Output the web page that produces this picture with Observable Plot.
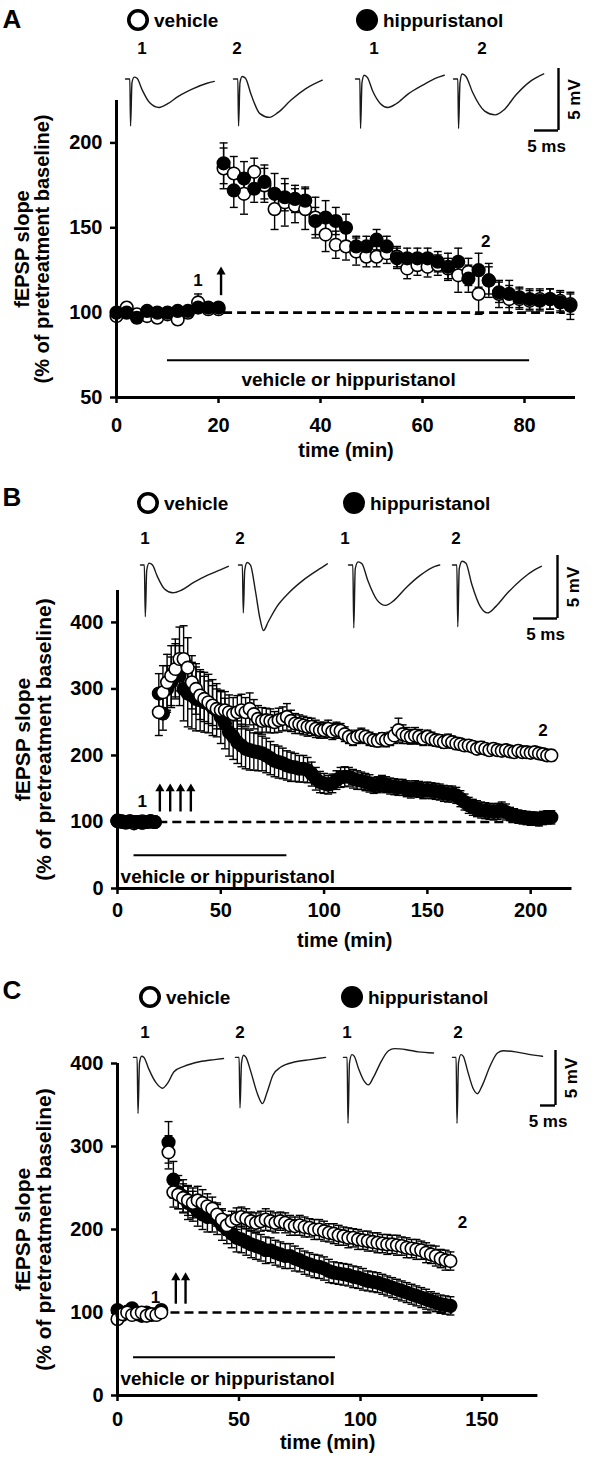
<!DOCTYPE html>
<html><head><meta charset="utf-8">
<script src="https://cdn.jsdelivr.net/npm/d3@7"></script>
<script src="https://cdn.jsdelivr.net/npm/@observablehq/plot@0.6"></script>
<style>
body{margin:0;background:#fff;}
#fig{position:relative;width:595px;height:1458px;overflow:hidden;font-family:'Liberation Sans',Arial,Helvetica,sans-serif;font-weight:bold;color:#000;background:#fff;}
#fig svg{overflow:visible;}
</style></head><body><div id="fig"></div>
<script>
// ---------------- DATA ----------------
const seriesNames = ["vehicle", "hippuristanol"];
const yLabel = "fEPSP slope\n(% of pretreatment baseline)";
const xLabel = "time (min)";
const barLabel = "vehicle or hippuristanol";

// Panel A: [time (min), mean (%), SEM]
const aVehicle = [[0,98,3],[2,103,3],[4,99,2],[6,98,3],[8,97,3],[10,99,3],[12,96,3],[14,100,3],[16,106,5],[18,102,3],[20,102,3],
[21,185,12],[23,182,10],[25,170,12],[27,183,8],[29,175,10],[31,161,12],[33,165,14],[35,163,10],[37,161,12],[39,156,12],
[41,146,10],[43,140,8],[45,139,8],[47,136,8],[49,133,6],[51,133,6],[53,135,6],[55,133,6],[57,126,6],[59,128,6],
[61,127,6],[63,128,6],[65,126,6],[67,122,10],[69,124,8],[71,111,12],[73,119,10],[75,111,8],[77,108,8],[79,108,6],
[81,107,6],[83,108,6],[85,108,6],[87,107,6],[89,105,6]];
const aHipp = [[0,100,3],[2,100,2],[4,97,3],[6,101,2],[8,100,2],[10,100,2],[12,101,2],[14,101,2],[16,103,3],[18,103,2],[20,103,2],
[21,188,12],[23,172,10],[25,179,10],[27,173,8],[29,177,10],[31,170,12],[33,168,8],[35,167,8],[37,166,8],[39,154,8],
[41,156,10],[43,154,8],[45,150,8],[47,139,6],[49,139,6],[51,143,6],[53,139,6],[55,132,6],[57,132,6],[59,132,6],
[61,132,6],[63,130,6],[65,127,8],[67,130,8],[69,120,8],[71,125,10],[73,119,8],[75,112,6],[77,111,8],[79,109,6],
[81,108,6],[83,107,6],[85,108,6],[87,106,6],[89,104,8]];
const aXTicks = [0,20,40,60,80];
const aYTicks = [50,100,150,200];

// Panel B
const bVehicle = [[0,101,3],[2,100,3],[4,99,3],[6,100,3],[8,98,3],[10,100,3],[12,101,3],[14,100,3],[16,101,3],[18,100,3],
[20,265,35],[22,295,40],[24,310,42],[26,320,45],[28,330,45],[30,345,48],[32,345,50],[34,332,45],[36,310,40],[38,300,38],
[40,290,36],[42,285,34],[44,280,32],[46,275,30],[48,270,30],[50,268,28],[52,268,28],[54,265,26],[56,262,25],[58,265,25],
[60,268,24],[62,265,22],[64,270,24],[66,262,22],[68,255,20],[70,252,20],[72,253,18],[74,252,18],[76,250,16],[78,253,18],
[80,255,18],[82,258,20],[84,252,16],[86,248,15],[88,247,14],[90,245,14],[92,243,14],[94,243,13],[96,240,13],[98,238,12],
[100,238,12],[102,240,13],[104,236,12],[106,238,12],[108,237,11],[110,232,11],[112,228,10],[114,225,10],[116,228,10],[118,230,11],
[120,228,10],[122,225,10],[124,223,9],[126,222,9],[128,225,9],[130,223,10],[132,225,10],[134,230,12],[136,238,18],[138,232,14],
[140,230,12],[142,228,11],[144,230,12],[146,228,11],[148,225,10],[150,228,10],[152,225,10],[154,223,9],[156,222,9],[158,220,9],
[160,222,10],[162,220,9],[164,218,9],[166,217,8],[168,215,8],[170,215,8],[172,213,8],[174,210,8],[176,212,9],[178,210,8],
[180,208,8],[182,210,8],[184,208,8],[186,207,8],[188,208,8],[190,206,8],[192,205,8],[194,207,8],[196,205,8],[198,205,8],
[200,204,8],[202,205,8],[204,203,8],[206,202,8],[208,200,8],[210,200,8]];
const bHipp = [[0,102,3],[2,101,3],[4,100,3],[6,101,3],[8,100,3],[10,100,3],[12,99,3],[14,100,3],[16,101,3],[18,100,3],
[20,293,30],[22,263,25],[24,300,35],[26,310,38],[28,328,40],[30,320,45],[32,300,48],[34,293,50],[36,290,50],[38,285,48],
[40,283,46],[42,280,45],[44,278,44],[46,272,42],[48,268,40],[50,258,40],[52,248,38],[54,235,36],[56,228,34],[58,220,32],
[60,215,32],[62,210,30],[64,208,30],[66,206,28],[68,205,28],[70,203,26],[72,200,26],[74,196,25],[76,192,24],[78,190,24],
[80,188,23],[82,185,22],[84,183,22],[86,182,21],[88,180,20],[90,180,20],[92,178,19],[94,172,18],[96,165,17],[98,160,16],
[100,158,15],[102,156,14],[104,158,14],[106,163,14],[108,167,15],[110,168,15],[112,168,14],[114,165,14],[116,163,14],[118,162,13],
[120,160,13],[122,158,13],[124,155,12],[126,156,12],[128,158,12],[130,156,12],[132,154,12],[134,153,12],[136,152,12],[138,152,12],
[140,150,12],[142,148,12],[144,150,12],[146,149,12],[148,147,12],[150,148,12],[152,147,12],[154,146,12],[156,145,12],[158,143,12],
[160,142,12],[162,142,12],[164,140,12],[166,135,12],[168,130,12],[170,125,12],[172,122,12],[174,120,12],[176,118,12],[178,117,12],
[180,116,12],[182,115,12],[184,116,12],[186,118,12],[188,115,12],[190,112,10],[192,110,10],[194,108,10],[196,107,10],[198,106,10],
[200,105,10],[202,105,10],[204,104,10],[206,106,10],[208,107,10],[210,107,10]];
const bXTicks = [0,50,100,150,200];
const bYTicks = [0,100,200,300,400];

// Panel C
const cVehicle = [[0,92,5],[2,98,4],[4,100,4],[6,97,4],[8,99,4],[10,100,4],[12,96,4],[14,98,4],[16,97,4],[18,100,4],
[21,293,20],[23,245,18],[25,242,17],[27,238,17],[29,235,18],[31,232,18],[33,235,17],[35,232,16],[37,228,15],[39,225,14],
[41,218,14],[43,212,13],[45,205,12],[47,210,12],[49,213,13],[51,215,12],[53,213,12],[55,210,11],[57,208,12],[59,210,12],
[61,212,13],[63,210,12],[65,208,12],[67,210,11],[69,208,12],[71,205,12],[73,204,11],[75,205,12],[77,203,12],[79,202,11],
[81,200,12],[83,200,12],[85,198,12],[87,196,11],[89,195,12],[91,193,12],[93,192,11],[95,190,12],[97,190,11],[99,188,12],
[101,187,11],[103,186,12],[105,185,11],[107,184,12],[109,183,11],[111,182,12],[113,182,11],[115,181,12],[117,180,11],[119,178,12],
[121,177,11],[123,176,12],[125,175,11],[127,172,12],[129,170,11],[131,168,12],[133,165,11],[135,163,12],[137,162,11]];
const cHipp = [[0,103,5],[2,97,5],[4,101,4],[6,105,4],[8,98,4],[10,96,4],[12,100,4],[14,97,4],[16,98,4],[18,103,4],
[21,305,25],[23,260,22],[25,245,20],[27,240,20],[29,232,20],[31,228,18],[33,222,18],[35,218,18],[37,215,18],[39,215,18],
[41,212,18],[43,205,18],[45,200,17],[47,195,17],[49,190,17],[51,188,16],[53,185,16],[55,182,16],[57,180,16],[59,178,16],
[61,175,16],[63,175,15],[65,172,15],[67,170,15],[69,168,15],[71,168,15],[73,165,15],[75,163,14],[77,160,14],[79,158,14],
[81,156,14],[83,155,14],[85,153,14],[87,150,14],[89,148,13],[91,147,13],[93,146,13],[95,145,13],[97,143,13],[99,142,13],
[101,140,13],[103,138,12],[105,137,12],[107,136,12],[109,134,12],[111,132,12],[113,130,12],[115,128,12],[117,126,12],[119,124,12],
[121,122,12],[123,120,12],[125,118,12],[127,116,12],[129,114,11],[131,112,11],[133,110,11],[135,109,11],[137,108,11]];
const cXTicks = [0,50,100,150];
const cYTicks = [0,100,200,300,400];

// Annotations (data units: time, %)
const aDash = {v:100, t1:21, t2:88};
const bDash = {v:100, t1:20, t2:210};
const cDash = {v:100, t1:22, t2:138};
const aBar = {v:72, t1:10, t2:81, textT:45.5, textV:60.5, anchor:"middle"};
const bBar = {v:50, t1:8, t2:82, textT:1.5, textV:17, anchor:"start"};
const cBar = {v:46, t1:6.6, t2:89.7, textT:1.2, textV:20.5, anchor:"start"};
const aNums = [{t:16, v:119, s:"1"}, {t:72.4, v:142, s:"2"}];
const bNums = [{t:12, v:130, s:"1"}, {t:206, v:237, s:"2"}];
const cNums = [{t:15.6, v:118, s:"1"}, {t:142, v:208, s:"2"}];
const aArrows = [{t:20.5, v1:110, v2:124}];
const bArrows = [{t:20.5, v1:115, v2:150}, {t:25.5, v1:115, v2:150}, {t:30.5, v1:115, v2:150}, {t:35.5, v1:115, v2:150}];
const cArrows = [{t:24, v1:110, v2:142}, {t:28, v1:110, v2:142}];

// Example traces: [ms, mV]
const traceA1 = [[0,0],[0.9,0],[1.05,-3.8],[1.35,-0.3],[1.8,0.15],[2.4,0.05],[3.5,-0.9],[5,-1.9],[7,-2.3],[8.8,-2.0],[11,-1.4],[14,-0.8],[17,-0.35],[18.5,-0.2]];
const traceA2 = [[0,0],[0.9,0],[1.05,-3.8],[1.35,-0.3],[1.8,0.2],[2.5,0.05],[3.7,-1.3],[5.5,-2.8],[7.5,-3.1],[9.3,-2.7],[12,-1.7],[15,-0.8],[18.5,-0.1]];
const traceA3 = [[0,0],[0.9,0],[1.05,-4.0],[1.35,-0.3],[1.8,0.3],[2.5,0.1],[3.6,-1.0],[5.2,-2.0],[6.7,-2.3],[8.5,-2.0],[11,-1.2],[14,-0.5],[17,0.1],[18.5,0.3]];
const traceA4 = [[0,0],[0.9,0],[1.05,-4.0],[1.35,-0.3],[1.8,0.4],[2.6,0.2],[4,-1.1],[6.5,-2.6],[8.7,-2.9],[10.5,-2.5],[13,-1.3],[16,-0.2],[18.8,0.4]];
const traceB1 = [[0,0],[0.8,0],[1.0,-4.1],[1.3,-0.4],[1.8,0.15],[2.5,0],[3.5,-0.9],[5,-1.9],[6.7,-2.2],[8.5,-2.0],[11,-1.4],[14,-0.8],[16.5,-0.4],[18.3,-0.1]];
const traceB2 = [[0,0],[0.8,0],[1.0,-3.8],[1.3,-0.4],[1.8,0.2],[2.5,0],[3.5,-2.0],[4.5,-4.3],[5.2,-5.2],[6.2,-4.5],[8,-3.3],[10.5,-2.2],[13.5,-1.2],[16.5,-0.4],[18.5,0.1]];
const traceB3 = [[0,0],[0.9,0],[1.1,-5.0],[1.4,-0.3],[2.0,0.25],[2.8,0.1],[4,-1.2],[6,-2.8],[7.7,-3.2],[9.5,-2.8],[12,-1.8],[15,-0.8],[18,-0.1],[19,0]];
const traceB4 = [[0,0],[0.9,0],[1.1,-4.9],[1.4,-0.3],[2.0,0.3],[2.8,0.15],[4,-1.5],[5.8,-3.3],[7.3,-3.8],[9,-3.3],[11.5,-2.2],[14.5,-1.1],[17,-0.4],[18.5,-0.1]];
const traceC1 = [[0,0],[1.2,0],[1.5,-5.1],[2.0,-0.5],[2.7,0.1],[3.5,0],[5,-1.0],[7.5,-2.3],[9.7,-2.8],[11.5,-2.3],[13.5,-1.3],[17,-0.8],[22,-0.4],[27,-0.2],[30,-0.1]];
const traceC2 = [[0,0],[1.2,0],[1.5,-4.6],[2.0,-0.5],[2.7,0.2],[3.5,0],[5,-1.2],[7.3,-3.3],[9,-4.2],[10.5,-3.2],[12.5,-1.6],[15,-0.9],[20,-0.4],[25,-0.2],[30,0]];
const traceC3 = [[0,0],[1.2,0],[1.5,-6],[2.0,-0.5],[2.8,0.25],[3.6,0.1],[5,-1.0],[7,-2.2],[8.3,-2.5],[10,-1.8],[12.5,-0.4],[15,0.6],[17,0.8],[21,0.7],[25,0.5],[30,0.4]];
const traceC4 = [[0,0],[1.2,0],[1.5,-6],[2.0,-0.5],[2.8,0.25],[3.6,0.1],[5,-1.2],[7,-2.9],[8.3,-3.3],[10,-2.5],[12.5,-0.8],[15,0.4],[17,0.6],[21,0.5],[25,0.3],[30,0.1]];
const traceLabels = ["1","2","1","2"];
const scaleBar = {ms:5, mV:5};

// ---------------- DRAWING ----------------
const FONT = "'Liberation Sans', Arial, Helvetica, sans-serif";
const fig = document.getElementById("fig");
const baseStyle = {fontFamily: FONT, fontWeight: "bold", fontSize: "20px", background: "none", overflow: "visible", color: "#000"};

function place(node, left, top) {
  const d = document.createElement("div");
  Object.assign(d.style, {position: "absolute", left: left + "px", top: top + "px", lineHeight: "0"});
  d.appendChild(node); fig.appendChild(d); return d;
}
function label(txt, x, y, size, anchor) {
  const d = document.createElement("div");
  d.textContent = txt;
  Object.assign(d.style, {position: "absolute", left: x + "px", top: y + "px", fontSize: size + "px", fontWeight: "bold",
    lineHeight: "1", whiteSpace: "nowrap", transform: anchor === "start" ? "translate(0,-50%)" : "translate(-50%,-50%)"});
  fig.appendChild(d);
}
function legendDot(cx, cy, r, filled) {
  const ns = "http://www.w3.org/2000/svg";
  const s = document.createElementNS(ns, "svg");
  s.setAttribute("width", 2 * r + 6); s.setAttribute("height", 2 * r + 6);
  const c = document.createElementNS(ns, "circle");
  c.setAttribute("cx", r + 3); c.setAttribute("cy", r + 3);
  c.setAttribute("r", filled ? r : r - 1.8);
  c.setAttribute("fill", filled ? "#000" : "#fff");
  c.setAttribute("stroke", "#000"); c.setAttribute("stroke-width", filled ? 0 : 3.6);
  s.appendChild(c);
  place(s, cx - r - 3, cy - r - 3);
}
function legend(y, oc, fc) {
  legendDot(oc, y, 11, false); label(seriesNames[0], oc + 16, y, 19, "start");
  legendDot(fc, y, 11, true); label(seriesNames[1], fc + 16, y, 19, "start");
}

const capSym = {draw(ctx, size) { const r = Math.sqrt(size / Math.PI); ctx.moveTo(-r, 0); ctx.lineTo(r, 0); }};

function errMarks(rows) {
  return [
    Plot.ruleX(rows, {x: d => d[0], y1: d => d[1] - d[2], y2: d => d[1] + d[2], stroke: "#000", strokeWidth: 1.4}),
    Plot.dot(rows, {x: d => d[0], y: d => d[1] + d[2], symbol: capSym, r: 4, stroke: "#000", strokeWidth: 1.4, fill: "none"}),
    Plot.dot(rows, {x: d => d[0], y: d => d[1] - d[2], symbol: capSym, r: 4, stroke: "#000", strokeWidth: 1.4, fill: "none"})
  ];
}
function dotMarks(rows, open) {
  return Plot.dot(rows, {x: d => d[0], y: d => d[1], r: 6.3, fill: open ? "#fff" : "#000", stroke: "#000", strokeWidth: 1.6});
}

function mainPanel(c) {
  const first = c.openOnTop ? dotMarks(c.hip, false) : dotMarks(c.veh, true);
  const second = c.openOnTop ? dotMarks(c.veh, true) : dotMarks(c.hip, false);
  const extra = c.baselineFilledTop ? [dotMarks(c.hip.filter(d => d[0] < c.dash.t1), false)] : [];
  const p = Plot.plot({
    width: 595, height: c.height, marginLeft: c.ml, marginRight: c.mr, marginTop: c.mt, marginBottom: c.mb,
    style: baseStyle,
    x: {domain: c.xDomain}, y: {domain: c.yDomain},
    marks: [
      Plot.ruleY([c.dash], {y: d => d.v, x1: d => d.t1, x2: d => d.t2, stroke: "#000", strokeWidth: 2.6, strokeDasharray: "9,5"}),
      ...errMarks(c.veh), ...errMarks(c.hip),
      first, second, ...extra,
      Plot.ruleY([c.bar], {y: d => d.v, x1: d => d.t1, x2: d => d.t2, stroke: "#000", strokeWidth: 2}),
      Plot.text([c.bar], {x: d => d.textT, y: d => d.textV, text: () => barLabel, textAnchor: c.bar.anchor, fontSize: 19, fontWeight: "bold"}),
      Plot.text(c.nums, {x: d => d.t, y: d => d.v, text: d => d.s, fontSize: 17, fontWeight: "bold"}),
      Plot.ruleX(c.arrows, {x: d => d.t, y1: d => d.v1, y2: d => d.v2, stroke: "#000", strokeWidth: 2.4}),
      Plot.dot(c.arrows, {x: d => d.t, y: d => d.v2, symbol: "triangle", r: 3.4, fill: "#000", stroke: "none"}),
      Plot.ruleX([c.xDomain[0]], {stroke: "#000", strokeWidth: 3}),
      Plot.ruleY([c.yDomain[0]], {stroke: "#000", strokeWidth: 3}),
      Plot.axisX(c.xTicks, {tickSize: 6, tickPadding: c.xPad, strokeWidth: 2.5, fontSize: 20, fontWeight: "bold", label: null}),
      Plot.axisY(c.yTicks, {tickSize: 6, tickPadding: 8, strokeWidth: 2.5, fontSize: 20, fontWeight: "bold", label: null}),
      Plot.text([xLabel], {frameAnchor: "bottom", dy: c.xLabDy, lineAnchor: "middle", text: d => d, fontSize: 20, fontWeight: "bold"}),
      Plot.text([yLabel], {frameAnchor: "left", dx: -84, rotate: -90, textAnchor: "middle", lineAnchor: "middle", text: d => d, fontSize: c.yLabSize, lineHeight: 1.02, fontWeight: "bold"})
    ]
  });
  place(p, 0, c.top);
}

function trace(data, left, baseY, xmax, ymin, ymax, pxMs, pxMv) {
  const p = Plot.plot({
    width: xmax * pxMs, height: (ymax - ymin) * pxMv, margin: 0, style: baseStyle,
    x: {domain: [0, xmax], axis: null}, y: {domain: [ymin, ymax], axis: null},
    marks: [Plot.line(data, {x: d => d[0], y: d => d[1], curve: "monotone-x", stroke: "#1a1a1a", strokeWidth: 1.4})]
  });
  place(p, left, baseY - ymax * pxMv);
}
function bar(hx0, ytop, pxMs, pxMv, fs) {
  const w = scaleBar.ms * pxMs, h = scaleBar.mV * pxMv;
  const p = Plot.plot({
    width: w + 50, height: h + 30, marginLeft: 20, marginRight: 30, marginTop: 2, marginBottom: 28, style: baseStyle,
    x: {domain: [0, scaleBar.ms], axis: null}, y: {domain: [0, scaleBar.mV], axis: null},
    marks: [
      Plot.ruleX([scaleBar.ms], {y1: 0, y2: scaleBar.mV, stroke: "#000", strokeWidth: 2.4}),
      Plot.ruleY([0], {x1: 0, x2: scaleBar.ms, stroke: "#000", strokeWidth: 2.4}),
      Plot.text([scaleBar.mV + " mV"], {x: scaleBar.ms, y: scaleBar.mV / 2, text: d => d, rotate: -90, dx: 16, fontSize: fs, fontWeight: "bold"}),
      Plot.text([scaleBar.ms + " ms"], {x: scaleBar.ms / 2, y: 0, text: d => d, dy: 16, fontSize: fs, fontWeight: "bold"})
    ]
  });
  place(p, hx0 - 20, ytop - 2);
}

// Panel letters
label("A", 12, 19, 26); label("B", 12, 497, 26); label("C", 12, 990, 26);

// Legends
legend(20, 138, 367);
legend(503, 148, 354);
legend(997, 150, 352);

// Trace numbers
[[142,237,374,482,48],[145,240,345,456,538],[145,240,347,458,1032]].forEach(r => {
  traceLabels.forEach((s, i) => label(s, r[i], r[4], 17));
});

// Traces A
trace(traceA1, 125, 78, 19, -4.2, 0.6, 4.8, 12.4);
trace(traceA2, 233, 78, 19, -4.2, 0.6, 4.8, 12.4);
trace(traceA3, 355, 78, 19, -4.2, 0.6, 4.8, 12.4);
trace(traceA4, 453, 78, 19, -4.2, 0.6, 4.8, 12.4);
bar(534, 68, 4.8, 12.4, 17);
// Traces B
trace(traceB1, 140, 565, 19, -5.4, 0.6, 4.8, 12.6);
trace(traceB2, 238, 565, 19, -5.4, 0.6, 4.8, 12.6);
trace(traceB3, 348, 565, 19, -5.4, 0.6, 4.8, 12.6);
trace(traceB4, 452, 565, 19, -5.4, 0.6, 4.8, 12.6);
bar(533, 555, 4.8, 12.6, 17);
// Traces C
trace(traceC1, 133, 1057, 30, -6.3, 0.9, 3, 11);
trace(traceC2, 235, 1057, 30, -6.3, 0.9, 3, 11);
trace(traceC3, 343, 1057, 30, -6.3, 0.9, 3, 11);
trace(traceC4, 452, 1057, 30, -6.3, 0.9, 3, 11);
bar(540, 1050, 3, 11, 17);

// Main plots
mainPanel({top: 90, height: 375, ml: 116, mr: 20, mt: 10, mb: 68, xDomain: [0, 90], yDomain: [50, 225],
  xTicks: aXTicks, yTicks: aYTicks, veh: aVehicle, hip: aHipp, openOnTop: false, xPad: 14, xLabDy: 53, yLabSize: 20,
  dash: aDash, bar: aBar, nums: aNums, arrows: aArrows});
mainPanel({top: 580, height: 370, ml: 117, mr: 23.5, mt: 10, mb: 62, xDomain: [0, 220], yDomain: [0, 448],
  xTicks: bXTicks, yTicks: bYTicks, veh: bVehicle, hip: bHipp, openOnTop: true, baselineFilledTop: true, xPad: 8, xLabDy: 52, yLabSize: 21,
  dash: bDash, bar: bBar, nums: bNums, arrows: bArrows});
mainPanel({top: 1053, height: 400, ml: 117, mr: 57.6, mt: 10, mb: 58, xDomain: [0, 173], yDomain: [0, 400],
  xTicks: cXTicks, yTicks: cYTicks, veh: cVehicle, hip: cHipp, openOnTop: true, xPad: 10, xLabDy: 47, yLabSize: 21,
  dash: cDash, bar: cBar, nums: cNums, arrows: cArrows});
</script></body></html>
